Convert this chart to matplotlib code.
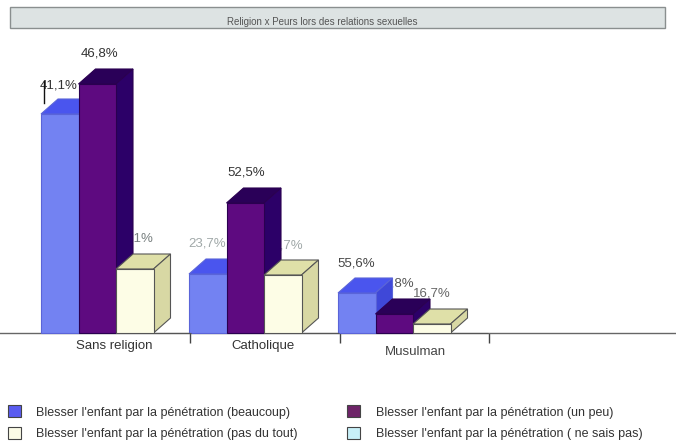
import matplotlib
matplotlib.use("Agg")
import matplotlib.pyplot as plt
from matplotlib.patches import Polygon, Rectangle

plt.rcParams['font.family'] = ['Liberation Sans', 'DejaVu Sans']

categories = ["Sans religion", "Catholique", "Musulman"]
series_names = ["Blesser l'enfant par la pénétration (beaucoup)",
                "Blesser l'enfant par la pénétration (un peu)",
                "Blesser l'enfant par la pénétration (pas du tout)",
                "Blesser l'enfant par la pénétration ( ne sais pas)"]
# drawn heights (the printed labels are not on one common scale in the original)
beaucoup = [219, 59, 40]
un_peu = [249, 130, 19]
pas_du_tout = [64, 58, 9]
ne_sais_pas = [0, 0, 0]
labels_beaucoup = ["41,1%", "23,7%", "55,6%"]
labels_un_peu = ["46,8%", "52,5%", "27,8%"]
labels_pas = ["12,1%", "23,7%", "16,7%"]

series = [beaucoup, un_peu, pas_du_tout, ne_sais_pas]
front = ['#7382f2', '#5e0a80', '#fdfde6', '#c8f0f8']
top = ['#4a55ee', '#2a0058', '#dfe0a8', '#a0d8e0']
side = ['#3f48d8', '#2c0068', '#d8d8a4', '#90c8d0']
edge = ['#5a64d8', '#2a0050', '#555555', '#555555']
legend_front = ['#5a5cf0', '#6e2468', '#fbfbe6', '#c8f0f8']
label_colors = [['#333333', '#a0a8a8', '#444444'],
                ['#333333', '#333333', '#555555'],
                ['#777f7f', '#a0a8a8', '#666666']]
label_sets = [labels_beaucoup, labels_un_peu, labels_pas]
label_dx = [[-1, -1, -1], [2, 1, 1], [0, 1, 0]]
label_dy = [[1, 3, 2], [3, 3, 3], [3, 2, 3]]
label_z = [3.5, 12, 3.5]

W, H = 676, 448
base = 333
fig = plt.figure(figsize=(W / 100, H / 100), dpi=100, facecolor='white')
ax = fig.add_axes([0, (H - base) / H, 1, (base - 40) / H])
ax.set_xlim(0, W)
ax.set_ylim(0, base - 40)
ax.patch.set_alpha(0)

group_x = [41, 189, 338]
bw = 37.5
ddx, ddy = 17, 15

handles = []
for s, vals in enumerate(series):
    xs = [g + s * bw for g in group_x]
    bars = ax.bar(xs, vals, width=bw, align='edge', color=legend_front[s],
                  edgecolor=edge[s], linewidth=0.8, label=series_names[s],
                  clip_on=False, zorder=3 + s * 2)
    handles.append(bars)
    for rect, x, v, lab, col, dx, dy in zip(bars, xs, vals, label_sets[s] if s < 3 else [None] * 3,
                                            label_colors[s] if s < 3 else [None] * 3,
                                            label_dx[s] if s < 3 else [0] * 3,
                                            label_dy[s] if s < 3 else [0] * 3):
        if v <= 0:
            continue
        rect.set_facecolor(front[s])
        z = 2 + s * 2
        ax.add_patch(Polygon([(x, v), (x + bw, v), (x + bw + ddx, v + ddy), (x + ddx, v + ddy)],
                             closed=True, fc=top[s], ec=edge[s], lw=0.8, zorder=z, clip_on=False))
        ax.add_patch(Polygon([(x + bw, 0), (x + bw + ddx, ddy), (x + bw + ddx, v + ddy), (x + bw, v)],
                             closed=True, fc=side[s], ec=edge[s], lw=0.8, zorder=z, clip_on=False))
        ax.text(x + bw / 2 + dx, v + ddy + 7 + dy, lab, ha='center', va='bottom',
                fontsize=9.5, color=col, zorder=label_z[s] if s != 1 or v > 100 else 1.5)

# stray vertical mark beside the first label
ax.plot([44, 44], [beaucoup[0] + 11, beaucoup[0] + 33], color='#111111', lw=1, zorder=12, clip_on=False)

for sp in ['top', 'left', 'right']:
    ax.spines[sp].set_visible(False)
ax.spines['bottom'].set_color('#666666')
ax.spines['bottom'].set_linewidth(1)
ax.set_yticks([])
ax.set_xticks([114, 263, 415])
ax.set_xticklabels(categories, fontsize=9.5, color='#333333')
ax.tick_params(axis='x', which='major', length=0, pad=5)
ax.get_xticklabels()[2].set_color('#444444')
ax.xaxis.get_major_ticks()[2].set_pad(9)
ax.set_xticks([190, 340, 489], minor=True)
ax.tick_params(axis='x', which='minor', length=7, width=1, color='#444444')

# title band
fig.add_artist(Rectangle((10 / W, 1 - 28 / H), 655 / W, 21 / H, transform=fig.transFigure,
                         fc='#dde3e3', ec='#8a8f8f', lw=1))
fig.text(322 / W, 1 - 22 / H, "Religion x Peurs lors des relations sexuelles",
         ha='center', va='center', fontsize=7, color='#555555')

leg = fig.legend([handles[i] for i in (0, 2, 1, 3)], [series_names[i] for i in (0, 2, 1, 3)],
                 ncol=2, frameon=False, loc='lower left', bbox_to_anchor=(8 / W, 8 / H),
                 fontsize=9, labelcolor='#333333', handlelength=1.0, handleheight=1.1,
                 handletextpad=1.28, columnspacing=3.95, labelspacing=0.66,
                 borderaxespad=0, borderpad=0)
colors = [legend_front[i] for i in (0, 2, 1, 3)]
for h, c in zip(leg.legend_handles, colors):
    h.set_facecolor(c)
    h.set_edgecolor('#444444')

fig.savefig('out.png', dpi=100)
